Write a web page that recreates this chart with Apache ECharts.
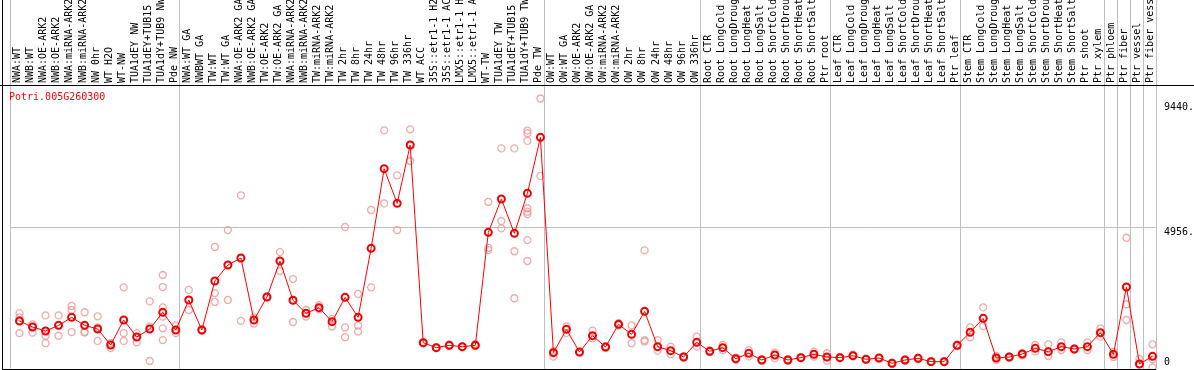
<!DOCTYPE html>
<html><head><meta charset="utf-8">
<script src="https://cdn.jsdelivr.net/npm/echarts@6/dist/echarts.min.js"></script>
<style>html,body{margin:0;padding:0;background:#fff}#c{width:1194px;height:370px}</style>
</head><body><div id="c"></div>
<script>
const geneId = "Potri.005G260300";

const categories = [
  "NWA:WT","NWB:WT","NWA:OE-ARK2","NWB:OE-ARK2","NWA:miRNA-ARK2","NWB:miRNA-ARK2","NW 0hr","WT H2O","WT-NW",
  "TUA1dEY NW","TUA1dEY+TUB15 NW","TUA1dY+TUB9 NW","Pde NW",
  "NWA:WT GA","NWBWT GA","TW:WT","TW:WT GA","NWA:OE-ARK2 GA","NWB:OE-ARK2 GA","TW:OE-ARK2","TW:OE-ARK2 GA",
  "NWA:miRNA-ARK2 GA","NWB:miRNA-ARK2 GA","TW:miRNA-ARK2","TW:miRNA-ARK2 GA",
  "TW 2hr","TW 8hr","TW 24hr","TW 48hr","TW 96hr","TW 336hr","WT ACC",
  "35S::etr1-1 H2O","35S::etr1-1 ACC","LMX5::etr1-1 H2O","LMX5::etr1-1 ACC",
  "WT-TW","TUA1dEY TW","TUA1dEY+TUB15 TW","TUA1dY+TUB9 TW","Pde TW",
  "OW:WT","OW:WT GA","OW:OE-ARK2","OW:OE-ARK2 GA","OW:miRNA-ARK2","OW:miRNA-ARK2 GA",
  "OW 2hr","OW 8hr","OW 24hr","OW 48hr","OW 96hr","OW 336hr",
  "Root CTR","Root LongCold","Root LongDrought","Root LongHeat","Root LongSalt","Root ShortCold","Root ShortDrought","Root ShortHeat","Root ShortSalt","Ptr root",
  "Leaf CTR","Leaf LongCold","Leaf LongDrought","Leaf LongHeat","Leaf LongSalt","Leaf ShortCold","Leaf ShortDrought","Leaf ShortHeat","Leaf ShortSalt","Ptr leaf",
  "Stem CTR","Stem LongCold","Stem LongDrought","Stem LongHeat","Stem LongSalt","Stem ShortCold","Stem ShortDrought","Stem ShortHeat","Stem ShortSalt",
  "Ptr shoot","Ptr xylem","Ptr phloem","Ptr fiber","Ptr vessel","Ptr fiber vessel"
];

const meanValues = [
  1675,1466,1326,1524,1803,1524,1396,838,1710,1117,1396,1978,1361,
  2408,1361,3071,3630,3874,1710,2513,3769,2400,1944,2141,1652,
  2501,1803,4211,6991,5782,7818,919,745,826,780,826,
  4769,5933,4734,6131,8086,
  570,1384,590,1164,768,1559,1210,2013,780,640,419,931,
  617,745,360,547,314,489,314,396,512,419,
  396,465,338,385,198,314,373,256,256,826,
  1280,1768,384,419,524,722,605,780,698,
  780,1268,512,2862,174,442
];

const replicateValues = [
  [1950,1800,1250],[1560,1480,1270],[1870,1160,900],[1870,1520,1160],[2200,2060,1290],[1980,1300,1270],
  [1840,1450,980],[900,730],[2850,1250,980],[1250,1120,930],[2360,1480,280],[3280,2860,2150,1830,1420,1010],[1520,1250],
  [2760,2060],[1380,1340],[4260,2650,2340],[4850,2410],[6060,1680],[1800,1590],[2530,2500],[4080,3420],
  [3140,1640],[2060,1830],[2230,2080],[1750,1480],
  [4956,1450,1110],[2620,1520,1310],[5550,2850],[8330,5780],[6760,4850],[8365,7260],[940,900],
  [760,730],[850,800],[800,760],[880,800],
  [5830,4230,4150],[7700,5165,4910],[7700,4110,2470],[8320,8230,7960,5610,5490,5410,4500,3770],[9440,6740],
  [430,620],[1490,1260],[600,570],[1340,1070],[800,740],[1600,1520],
  [1520,900],[4140,1010,960],[1010,640],[780,510],[450,400],[1130,780],
  [650,590],[840,650],[400,330],[660,440],[340,290],[570,370],[340,290],[420,380],[605,430],[550,290],
  [420,380],[500,440],[360,320],[400,360],[220,180],[340,290],[400,350],[280,240],[280,240],[850,800],
  [1450,1110],[2150,1500],[454,314],[440,400],[547,480],[838,605],[861,454],[931,663],[720,680],
  [931,663],[1419,1129],[600,420],[4580,2260,1710],[349,174],[861,338,58]
];

const axisMax = 9912;
const midTick = 4956;
const maxLabel = "9440.";
const groupStarts = [0,13,41,53,63,73,84,85,86,87];

const FONT = "'DejaVu Sans Mono', monospace";
const GREY = '#c0c0c0';
const splitFn = function (i) { return groupStarts.indexOf(i) >= 0; };

const repData = [];
replicateValues.forEach(function (arr, i) { arr.forEach(function (v) { repData.push([i, v]); }); });

const txt = {fontFamily: FONT, fontSize: 10, color: '#000'};
const G = {containLabel: false, outerBoundsMode: 'none'};
const hiddenCat = function (gi) {
  return {type: 'category', gridIndex: gi, data: categories, boundaryGap: true,
    axisLine: {show: false}, axisTick: {show: false}, axisLabel: {show: false}, splitLine: {show: false}};
};
const hiddenVal = function (gi) {
  return {type: 'value', gridIndex: gi, min: 0, max: axisMax, show: false, splitLine: {show: false}};
};

const chart = echarts.init(document.getElementById('c'), null, {renderer: 'canvas'});
chart.setOption({
  animation: false,
  backgroundColor: '#fff',
  title: {text: geneId, left: 9, top: 92, padding: 0,
    textStyle: {color: '#ff0000', fontFamily: FONT, fontSize: 10, fontWeight: 'normal'}},
  grid: [
    Object.assign({left: 13, right: 35, top: 85, bottom: 1}, G),     // data
    Object.assign({left: 11.3, right: 36.7, top: 85, bottom: 1}, G), // category labels
    Object.assign({left: 10, right: 38, top: 85, bottom: 1}, G),     // plot frame lines + value axis
    Object.assign({left: 10, right: 38, top: 0, height: 85}, G)      // separators in label strip
  ],
  xAxis: [
    hiddenCat(0),
    {type: 'category', gridIndex: 1, data: categories, position: 'top', boundaryGap: true,
      axisLine: {show: false}, axisTick: {show: false}, splitLine: {show: false},
      axisLabel: {interval: 0, rotate: 90, margin: 2, fontFamily: FONT, fontSize: 10, color: '#000', hideOverlap: false}},
    {type: 'category', gridIndex: 2, data: categories, boundaryGap: true,
      axisLine: {show: false}, axisTick: {show: false}, axisLabel: {show: false},
      splitLine: {show: true, interval: splitFn, lineStyle: {color: GREY, width: 1}}},
    {type: 'category', gridIndex: 3, data: categories, boundaryGap: true,
      axisLine: {show: false}, axisTick: {show: false}, axisLabel: {show: false},
      splitLine: {show: true, interval: splitFn, lineStyle: {color: GREY, width: 1}}}
  ],
  yAxis: [
    hiddenVal(0),
    hiddenVal(1),
    {type: 'value', gridIndex: 2, position: 'right', min: 0, max: axisMax, interval: midTick,
      axisLine: {show: true, lineStyle: {color: GREY}}, axisTick: {show: false},
      splitLine: {show: true, lineStyle: {color: GREY}},
      axisLabel: {showMinLabel: true, showMaxLabel: true, margin: 8, fontFamily: FONT, fontSize: 10, color: '#000',
        formatter: function (v) {
          if (v === 0) return '{lo|0}';
          if (v === axisMax) return '{hi|' + maxLabel + '}';
          return '{mid|' + v + '.}';
        },
        rich: {
          lo: Object.assign({padding: [0, 0, 14, 0]}, txt),
          mid: Object.assign({padding: [10, 0, 0, 0]}, txt),
          hi: Object.assign({padding: [45, 0, 0, 0]}, txt)
        }}},
    {type: 'value', gridIndex: 3, show: false, splitLine: {show: false}}
  ],
  series: [
    {type: 'scatter', xAxisIndex: 0, yAxisIndex: 0, data: repData, symbol: 'circle', symbolSize: 7,
      itemStyle: {color: 'rgba(0,0,0,0)', borderColor: '#eb9696', borderWidth: 1.3},
      emphasis: {disabled: true}, z: 2},
    {type: 'line', xAxisIndex: 0, yAxisIndex: 0, data: meanValues, symbol: 'circle', symbolSize: 7,
      showAllSymbol: true,
      lineStyle: {color: '#ff0000', width: 1},
      itemStyle: {color: 'rgba(0,0,0,0)', borderColor: '#ee0000', borderWidth: 2},
      emphasis: {disabled: true}, z: 3}
  ],
  graphic: [
    {type: 'line', silent: true, z: 100, shape: {x1: 0, y1: 85.5, x2: 1194, y2: 85.5}, style: {stroke: '#000', lineWidth: 1}},
    {type: 'line', silent: true, z: 100, shape: {x1: 2.5, y1: 0, x2: 2.5, y2: 370}, style: {stroke: '#000', lineWidth: 1}},
    {type: 'line', silent: true, z: 100, shape: {x1: 2.5, y1: 369.5, x2: 1156, y2: 369.5}, style: {stroke: '#000', lineWidth: 1}}
  ]
});
</script>
</body></html>
